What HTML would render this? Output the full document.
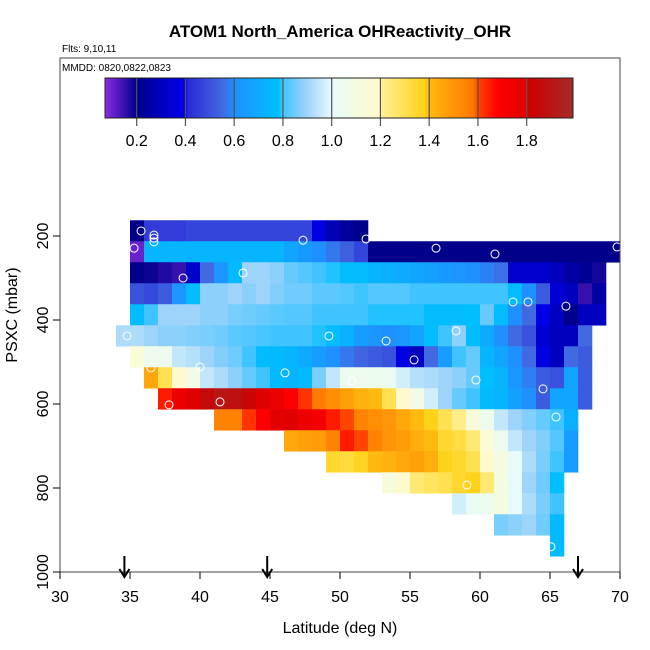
<!DOCTYPE html>
<html><head><meta charset="utf-8"><style>
html,body{margin:0;padding:0;background:#fff;}
svg{display:block;font-family:"Liberation Sans",Arial,sans-serif;}
</style></head><body>
<svg id="chart" width="650" height="650" viewBox="0 0 650 650" xmlns="http://www.w3.org/2000/svg">
<rect x="0" y="0" width="650" height="650" fill="#fff"/>
<text x="340" y="37" text-anchor="middle" font-size="17" font-weight="bold">ATOM1 North_America OHReactivity_OHR</text>
<text x="62" y="52" font-size="10">Flts: 9,10,11</text>
<g id="cells"></g>
<g id="circles"></g>
<text x="62" y="71" font-size="10">MMDD: 0820,0822,0823</text>
<g id="cbar"></g>
<rect x="60" y="58" width="560" height="514" fill="none" stroke="#444" stroke-width="1"/>
<g id="axes"></g>
<g id="arrows"></g>
<text x="340" y="633" text-anchor="middle" font-size="16">Latitude (deg N)</text>
<text transform="translate(17,315) rotate(-90)" text-anchor="middle" font-size="16">PSXC (mbar)</text>
</svg>
<script>
// ---- data ----
const latStart = 34;          // left edge latitude of column 0 (1-degree bins)
const pTop = 162.5;           // top edge pressure of row 0 (50 mbar bins)
const rowStart = [1,1,1,1,1,0,1,2,3,7,12,15,19,24,27,31];
const row0 = [0.2,0.45,0.45,0.45,0.47,0.47,0.47,0.47,0.47,0.47,0.47,0.47,0.47,0.38,0.28,0.24,0.2];
const row1 = [0.1,0.74,0.74,0.74,0.74,0.74,0.74,0.74,0.74,0.74,0.74,0.68,0.64,0.6,0.57,0.53,0.47,0.2,0.2,0.2,0.2,0.2,0.2,0.2,0.2,0.2,0.2,0.2,0.2,0.2,0.2,0.2,0.2,0.2,0.2];
const row2 = [0.2,0.19,0.17,0.15,0.33,0.55,0.62,0.76,0.9,0.9,0.88,0.84,0.82,0.8,0.79,0.77,0.77,0.74,0.72,0.7,0.68,0.66,0.64,0.62,0.6,0.58,0.56,0.33,0.33,0.33,0.3,0.25,0.22,0.18];
const row3 = [0.5,0.48,0.52,0.62,0.77,0.88,0.88,0.9,0.88,0.9,0.87,0.85,0.85,0.83,0.83,0.82,0.8,0.82,0.82,0.82,0.8,0.8,0.8,0.8,0.8,0.8,0.8,0.77,0.6,0.52,0.35,0.3,0.15,0.25];
const row4 = [0.77,0.8,0.9,0.9,0.9,0.88,0.88,0.86,0.85,0.84,0.83,0.82,0.82,0.8,0.8,0.8,0.8,0.79,0.79,0.79,0.79,0.77,0.77,0.77,0.78,0.84,0.77,0.6,0.55,0.4,0.3,0.2,0.3,0.3];
const row5 = [0.92,0.92,0.9,0.88,0.88,0.87,0.86,0.85,0.83,0.82,0.81,0.8,0.8,0.8,0.79,0.77,0.72,0.65,0.62,0.6,0.62,0.68,0.77,0.8,0.88,0.77,0.7,0.6,0.55,0.5,0.35,0.3,0.3,0.55];
const row6 = [1.15,1.05,1.05,0.95,0.93,0.9,0.87,0.85,0.8,0.77,0.76,0.74,0.7,0.65,0.6,0.57,0.54,0.52,0.5,0.38,0.3,0.55,0.65,0.8,0.84,0.74,0.68,0.6,0.55,0.38,0.3,0.55,0.52];
const row7 = [1.45,1.3,1.2,1.08,0.95,0.92,0.88,0.84,0.8,0.76,0.74,0.76,0.86,0.95,1.05,1.05,1.05,1.03,0.97,0.93,0.92,0.9,0.88,0.84,0.78,0.74,0.62,0.58,0.52,0.5,0.68,0.52];
const row8 = [1.65,1.75,1.8,1.85,1.9,1.88,1.83,1.8,1.75,1.68,1.62,1.57,1.52,1.47,1.42,1.4,1.3,1.2,1.08,0.97,0.9,0.84,0.8,0.76,0.74,0.66,0.6,0.52,0.68,0.68,0.52];
const row9 = [1.55,1.55,1.62,1.7,1.78,1.8,1.75,1.72,1.65,1.6,1.55,1.52,1.5,1.45,1.4,1.38,1.3,1.22,1.12,1.05,0.95,0.9,0.87,0.84,0.8,0.72];
const row10 = [1.45,1.47,1.48,1.55,1.65,1.6,1.55,1.5,1.48,1.43,1.4,1.35,1.32,1.25,1.15,1.05,0.95,0.9,0.87,0.82,0.65];
const row11 = [1.35,1.33,1.37,1.4,1.42,1.45,1.47,1.43,1.38,1.35,1.3,1.2,1.1,1.02,0.92,0.86,0.8,0.65];
const row12 = [1.12,1.2,1.25,1.28,1.3,1.35,1.38,1.25,1.1,1.0,0.9,0.85,0.78];
const row13 = [0.97,1.03,1.05,1.1,1.0,0.92,0.86,0.8];
const row14 = [0.86,0.88,0.9,0.85,0.76];
const row15 = [0.76];
const rows = [row0,row1,row2,row3,row4,row5,row6,row7,row8,row9,row10,row11,row12,row13,row14,row15];
const pointLat = [35.79,36.71,36.71,36.71,35.29,38.79,43.07,47.36,51.86,34.79,49.21,36.5,40.0,46.07,50.86,56.86,61.07,69.79,62.36,63.43,66.14,58.29,53.29,55.29,59.71,64.5,37.79,41.43,65.43,59.07,65.07];
const pointP = [188,198,205,214,229,300,288,210,207,438,438,514,512,526,545,229,243,226,357,357,367,426,450,495,543,564,602,595,631,793,940];
const arrowLat = [34.6,44.8,67];
const xTicks = [30,35,40,45,50,55,60,65,70];
const yTicks = [200,400,600,800,1000];
const cbTicks = [0.2,0.4,0.6,0.8,1.0,1.2,1.4,1.6,1.8];
const cbMin = 0.07, cbMax = 1.99;

// ---- scales ----
const X0=60, X1=620, Y0=58, Y1=572;
const xs = lat => X0 + (lat-30)*(X1-X0)/40;
const ys = p => 236 + (p-200)*0.42;
const NS='http://www.w3.org/2000/svg';
function mk(tag, attrs, parent){const e=document.createElementNS(NS,tag);for(const k in attrs)e.setAttribute(k,attrs[k]);parent.appendChild(e);return e;}

const stops=[[0.07,'#8a2be2'],[0.2,'#00008b'],[0.33,'#0000cd'],[0.4,'#0000e8'],[0.41,'#2a2ad6'],[0.55,'#4169e1'],[0.6,'#1e90ff'],[0.78,'#00bfff'],[0.8,'#40c4ff'],[0.9,'#9fd4fa'],[1.0,'#e6fbfb'],[1.1,'#f4fbe0'],[1.2,'#fffacd'],[1.21,'#fff08f'],[1.38,'#ffd21a'],[1.4,'#ffb90f'],[1.58,'#ff7800'],[1.6,'#ff4500'],[1.68,'#ff0000'],[1.8,'#e00000'],[1.81,'#cd0000'],[1.99,'#a52a2a']];
function hex(c){return [1,3,5].map(i=>parseInt(c.substr(i,2),16));}
function color(v){
  if(v<=stops[0][0])return stops[0][1];
  for(let i=1;i<stops.length;i++){
    if(v<=stops[i][0]){const a=hex(stops[i-1][1]),b=hex(stops[i][1]);const t=(v-stops[i-1][0])/(stops[i][0]-stops[i-1][0]);
      return 'rgb('+a.map((x,j)=>Math.round(x+(b[j]-x)*t)).join(',')+')';}
  }
  return stops[stops.length-1][1];
}

// ---- heatmap ----
const gc=document.getElementById('cells');
rows.forEach((row,j)=>{
  row.forEach((v,i)=>{
    const k=rowStart[j]+i;
    const x=xs(latStart+k), w=xs(latStart+k+1)-x;
    const y=ys(pTop+50*j), h=ys(pTop+50*(j+1))-y;
    const r=mk('rect',{x:x,y:y,width:w+0.3,height:h+0.3,fill:color(v)},gc);
    
    
  });
});

// ---- points ----
const gp=document.getElementById('circles');
pointLat.forEach((lat,i)=>{
  const c=mk('circle',{cx:xs(lat),cy:ys(pointP[i]),r:4,fill:'none',stroke:'#fff','stroke-width':1},gp);
  
  
});

// ---- colorbar ----
const gb=document.getElementById('cbar');
const CB0=105, CB1=573, CBY=78, CBH=40;
const cbx=v=>CB0+(v-cbMin)*(CB1-CB0)/(cbMax-cbMin);
for(let px=CB0;px<CB1;px++){
  const v=cbMin+(px+0.5-CB0)*(cbMax-cbMin)/(CB1-CB0);
  mk('rect',{x:px,y:CBY,width:1.2,height:CBH,fill:color(v)},gb);
}
cbTicks.forEach(t=>{
  const x=cbx(t);
  mk('line',{x1:x,y1:CBY,x2:x,y2:CBY+CBH+8,stroke:'#555','stroke-width':1.2},gb);
  const tx=mk('text',{x:x,y:CBY+CBH+28,'text-anchor':'middle','font-size':16},gb);
  tx.textContent=t.toFixed(1);
  
  
});
mk('rect',{x:CB0,y:CBY,width:CB1-CB0,height:CBH,fill:'none',stroke:'#222','stroke-width':1},gb);

// ---- axes ----
const ga=document.getElementById('axes');
xTicks.forEach(t=>{
  const x=xs(t);
  mk('line',{x1:x,y1:Y1,x2:x,y2:Y1+7,stroke:'#000'},ga);
  const tx=mk('text',{x:x,y:Y1+30,'text-anchor':'middle','font-size':16},ga);
  tx.textContent=t;
  
  
});
yTicks.forEach(t=>{
  const y=ys(t);
  mk('line',{x1:X0-7,y1:y,x2:X0,y2:y,stroke:'#000'},ga);
  const tx=mk('text',{transform:'translate(48,'+y+') rotate(-90)','text-anchor':'middle','font-size':16},ga);
  tx.textContent=t;
  
  
});

// ---- arrows ----
const gr=document.getElementById('arrows');
arrowLat.forEach(lat=>{
  const x=xs(lat);
  const g=mk('g',{},gr);
  
  
  mk('line',{x1:x,y1:556,x2:x,y2:576,stroke:'#000','stroke-width':2},g);
  mk('polyline',{points:(x-5)+',569 '+x+',577 '+(x+5)+',569',fill:'none',stroke:'#000','stroke-width':2},g);
});
</script>
</body></html>
